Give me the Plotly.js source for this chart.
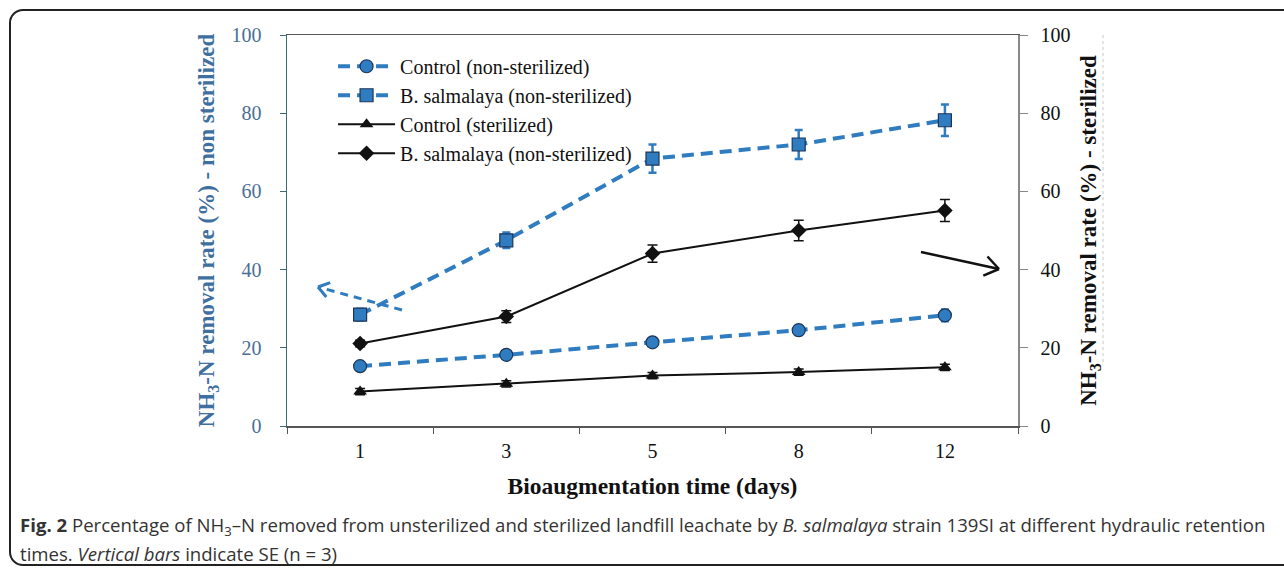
<!DOCTYPE html>
<html><head><meta charset="utf-8">
<script src="https://cdn.plot.ly/plotly-3.0.1.min.js"></script>
<style>
html,body{margin:0;padding:0;background:#fff;overflow:hidden}
#chart{position:absolute;left:0;top:0;width:1284px;height:571px}
#frame{position:absolute;left:9px;top:9px;width:1300px;height:557px;border:2px solid #222;border-radius:14px;box-sizing:border-box;pointer-events:none;z-index:5}
</style></head><body>
<div id="chart"></div>
<div id="frame"></div>
<script>
const days = ['1', '3', '5', '8', '12'];
const controlNonSterilized = [15.3, 18.2, 21.4, 24.5, 28.3];
const controlNonSterilizedSE = [0.8, 0.8, 1.0, 1.2, 1.5];
const bsalNonSterilized = [28.5, 47.5, 68.4, 72.0, 78.2];
const bsalNonSterilizedSE = [1.5, 2.0, 3.6, 3.7, 4.0];
const controlSterilized = [8.8, 10.8, 12.9, 13.8, 15.0];
const controlSterilizedSE = [0.8, 0.8, 0.8, 0.8, 0.8];
const bsalSterilized = [21.1, 28.0, 44.1, 50.0, 55.1];
const bsalSterilizedSE = [0.8, 1.5, 2.2, 2.6, 2.8];
const seriesNames = ['Control (non-sterilized)', 'B. salmalaya (non-sterilized)', 'Control (sterilized)', 'B. salmalaya (non-sterilized)'];
const yTicks = [0, 20, 40, 60, 80, 100];

const blue = '#2f7cc0', edge = '#1c3558', black = '#111';
const serif = 'Liberation Serif, Times New Roman, serif';

function blueTrace(y, se, name, symbol) {
  return {x: days, y: y, name: name, type: 'scatter', mode: 'lines+markers',
    line: {color: blue, width: 4, dash: '12px,7px'},
    marker: {symbol: symbol, size: 13, color: blue, line: {color: edge, width: 1.2}},
    error_y: {type: 'data', array: se, visible: true, color: blue, thickness: 2.5, width: 4}};
}
function blackTrace(y, se, name, symbol) {
  return {x: days, y: y, name: name, type: 'scatter', mode: 'lines+markers', yaxis: 'y2',
    line: {color: black, width: 2},
    marker: {symbol: symbol, size: 12, color: black},
    error_y: {type: 'data', array: se, visible: true, color: black, thickness: 1.5, width: 5}};
}
const data = [
  blueTrace(controlNonSterilized, controlNonSterilizedSE, seriesNames[0], 'circle'),
  blueTrace(bsalNonSterilized, bsalNonSterilizedSE, seriesNames[1], 'square'),
  blackTrace(controlSterilized, controlSterilizedSE, seriesNames[2], 'triangle-up'),
  blackTrace(bsalSterilized, bsalSterilizedSE, seriesNames[3], 'diamond')
];

// pixel -> paper helper for decorative arrows / caption
const L = 287, R = 1018, T = 35, B = 426;
function px(x) { return (x - L) / (R - L); }
function py(y) { return (B - y) / (B - T); }
function arrow(x0, y0, x1, y1, len, color, width, dash) {
  const dx = x0 - x1, dy = y0 - y1, d = Math.hypot(dx, dy);
  const ux = dx / d, uy = dy / d, a = 35 * Math.PI / 180;
  const out = [{type: 'line', xref: 'paper', yref: 'paper', x0: px(x0), y0: py(y0), x1: px(x1), y1: py(y1),
    line: {color: color, width: width, dash: dash}}];
  [a, -a].forEach(t => {
    const rx = ux * Math.cos(t) - uy * Math.sin(t), ry = ux * Math.sin(t) + uy * Math.cos(t);
    out.push({type: 'line', xref: 'paper', yref: 'paper', x0: px(x1), y0: py(y1), x1: px(x1 + rx * len), y1: py(y1 + ry * len),
      line: {color: color, width: width}});
  });
  return out;
}
const shapes = [].concat(
  arrow(402, 310, 318, 287, 13, blue, 3, '8px,6px'),
  arrow(921, 252, 999, 269, 17, black, 2.5, 'solid'),
  [{type: 'line', xref: 'paper', yref: 'paper', x0: px(1103), x1: px(1103), y0: py(35), y1: py(363),
    line: {color: '#c8c8c8', width: 1, dash: 'dot'}}]
);

const layout = {
  width: 1284, height: 571,
  margin: {l: L, r: 1284 - R, t: T, b: 571 - B},
  paper_bgcolor: '#fff', plot_bgcolor: 'rgba(0,0,0,0)',
  showlegend: true,
  legend: {x: 0.063, y: 0.97, xanchor: 'left', yanchor: 'top', bgcolor: 'rgba(0,0,0,0)', itemwidth: 57,
    font: {family: serif, size: 20, color: black}, tracegroupgap: 0},
  xaxis: {type: 'category', range: [-0.5, 4.5], tickson: 'boundaries', ticks: 'outside', ticklen: 6,
    tickcolor: '#555', showline: true, linecolor: '#555', linewidth: 1.5, mirror: true, showgrid: false,
    tickfont: {family: serif, size: 20, color: black}, ticklabelstandoff: 6,
    title: {text: '<b>Bioaugmentation time (days)</b>', font: {family: serif, size: 23.5, color: black}, standoff: 17}},
  yaxis: {range: [0, 100], tickvals: yTicks, ticks: 'outside', ticklen: 6, tickcolor: '#3d6b70',
    showline: true, linecolor: '#3d6b70', linewidth: 1.5, showgrid: false, zeroline: false,
    tickfont: {family: serif, size: 20, color: '#4a6f96'}, ticklabelstandoff: 14,
    title: {text: '<b>NH<sub>3</sub>-N removal rate (%) - non sterilized</b>', font: {family: serif, size: 23, color: '#3f6f9f'}, standoff: 10}},
  yaxis2: {range: [0, 100], tickvals: yTicks, overlaying: 'y', side: 'right', ticks: 'outside', ticklen: 8, tickcolor: '#888',
    showline: true, linecolor: '#888', linewidth: 1.5, showgrid: false, zeroline: false,
    tickfont: {family: serif, size: 20, color: black}, ticklabelstandoff: 9,
    title: {text: '<b>NH<sub>3</sub>-N removal rate (%) - sterilized</b>', font: {family: serif, size: 23, color: black}, standoff: 10}},
  shapes: shapes,
  annotations: [
    {xref: 'paper', yref: 'paper', x: px(18), y: py(526), xanchor: 'left', yanchor: 'middle', showarrow: false,
      text: '<b>Fig. 2</b> Percentage of NH<sub>3</sub>–N removed from unsterilized and sterilized landfill leachate by <i>B. salmalaya</i> strain 139SI at different hydraulic retention',
      font: {family: 'Open Sans, sans-serif', size: 18.6, color: '#333'}},
    {xref: 'paper', yref: 'paper', x: px(18), y: py(553), xanchor: 'left', yanchor: 'middle', showarrow: false,
      text: 'times. <i>Vertical bars</i> indicate SE (n = 3)',
      font: {family: 'Open Sans, sans-serif', size: 18.6, color: '#333'}}
  ]
};
Plotly.newPlot('chart', data, layout, {staticPlot: true, displayModeBar: false});
</script>
</body></html>
